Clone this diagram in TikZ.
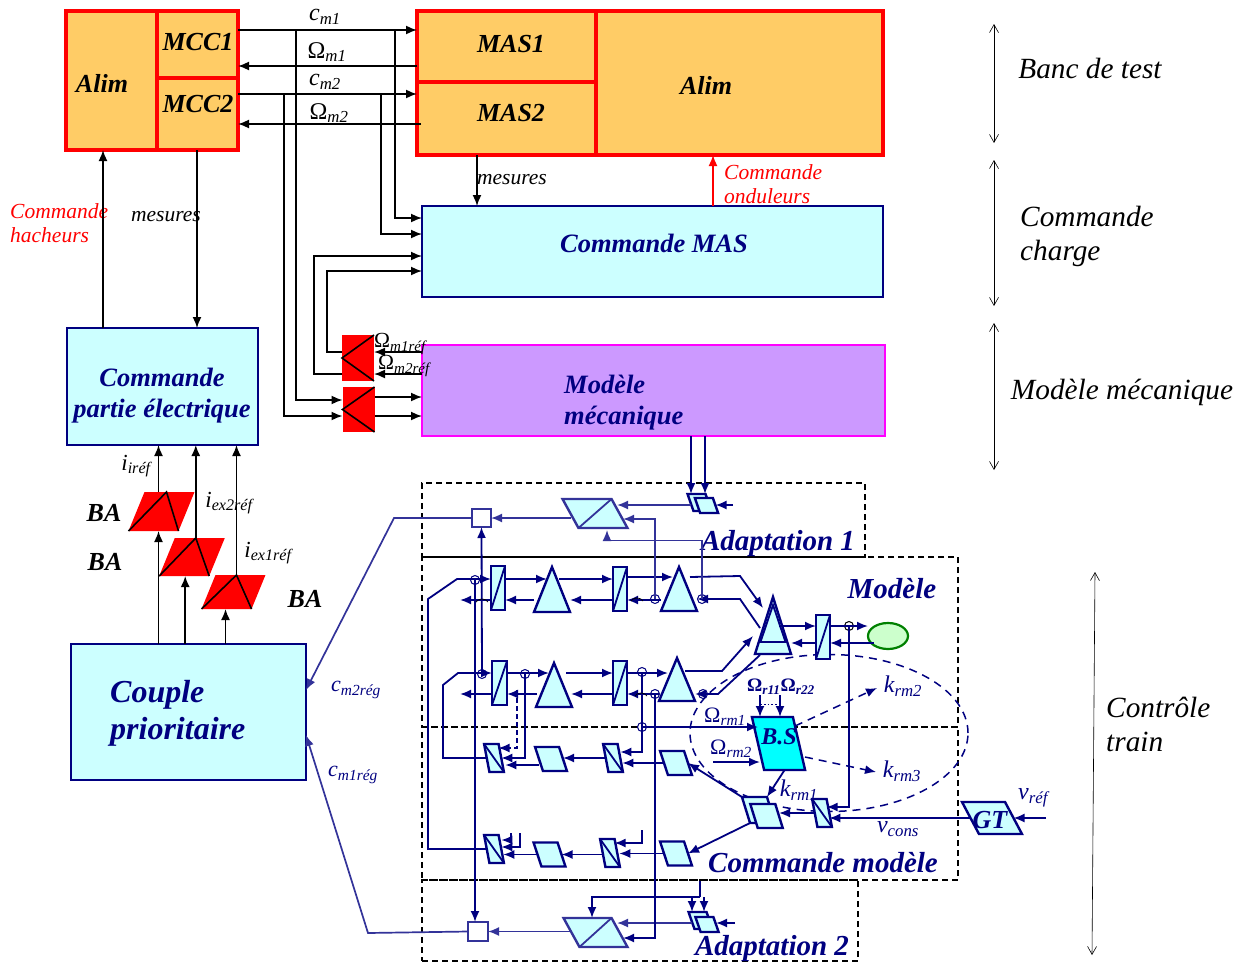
\documentclass[tikz,border=0pt]{standalone}
\usepackage{fontspec}
\setmainfont{Liberation Serif}
\usetikzlibrary{arrows.meta,positioning,calc,shapes.geometric}
\definecolor{navyb}{HTML}{000080}
\definecolor{indigob}{HTML}{333399}
\definecolor{paleb}{HTML}{CCFFFF}
\definecolor{orangeb}{HTML}{FFCC66}
\definecolor{violetb}{HTML}{CC99FF}
\definecolor{cyanb}{HTML}{00FFFF}
\definecolor{magentab}{HTML}{FF00FF}
\definecolor{greenb}{HTML}{008000}
\definecolor{paleg}{HTML}{CCFFCC}
\newcommand{\sublab}[2]{#1\textsubscript{\itshape #2}}
\newcommand{\Om}{{\upshape Ω}}
\tikzset{
  orangebox/.style={draw=red,fill=orangeb,line width=3.2pt,inner sep=0pt,outer sep=0pt},
  palebox/.style={draw=navyb,fill=paleb,line width=2.8pt,inner sep=0pt,outer sep=0pt},
  mixbox/.style={draw=magentab,fill=violetb,line width=2.8pt,inner sep=0pt,outer sep=0pt},
  redbox/.style={fill=red,inner sep=0pt,outer sep=0pt},
  redpara/.style={fill=red,inner sep=0pt,outer sep=0pt,xslant=.41,transform shape},
  dashbox/.style={draw=black,dashed,line width=1.1pt,dash pattern=on 6pt off 4pt,inner sep=0pt,outer sep=0pt},
  para/.style={draw=navyb,fill=paleb,line width=2.4pt,inner sep=0pt,outer sep=0pt,xslant=#1,transform shape},
  ipara/.style={para=#1,draw=indigob},
  whitebox/.style={draw=indigob,fill=white,line width=1.8pt,inner sep=0pt,outer sep=0pt},
  slashup/.style={append after command={(\tikzlastnode.south west) edge[#1,line width=1.8pt,-] (\tikzlastnode.north east)}},
  slashdown/.style={append after command={(\tikzlastnode.north west) edge[navyb,line width=1.8pt,-] (\tikzlastnode.south east)}},
  bar/.style={draw=navyb,fill=paleb,line width=2.4pt,inner sep=0pt,outer sep=0pt,minimum width=14pt,minimum height=44pt,slashup=navyb},
  slantbar/.style={para=-.19,minimum width=14.5pt,minimum height=28pt,slashdown},
  smallpara/.style={para=-.33,minimum width=24pt,minimum height=24pt},
  tri/.style={isosceles triangle,isosceles triangle stretches,shape border rotate=90,draw=navyb,fill=paleb,line width=2.4pt,inner sep=0pt,outer sep=0pt,anchor=lower side},
  jn/.style={circle,draw=navyb,line width=1pt,minimum size=9pt,inner sep=0pt,outer sep=0pt},
  kline/.style={black,line width=1.6pt},
  nl/.style={navyb,line width=1.8pt},
  il/.style={indigob,line width=1.7pt},
  dl/.style={navyb,line width=1.5pt,dashed,dash pattern=on 8pt off 6pt},
  span/.style={black,line width=.6pt,{Straight Barb[length=8pt,width=9pt]}-{Straight Barb[length=8pt,width=9pt]}},
  bigk/.style={font=\fontsize{26}{30}\bfseries\itshape\selectfont,black,inner sep=0pt},
  bign/.style={font=\fontsize{26.5}{31}\bfseries\itshape\selectfont,navyb,inner sep=0pt,align=center},
  bignn/.style={font=\fontsize{29}{33}\bfseries\itshape\selectfont,navyb,inner sep=0pt},
  lab/.style={font=\fontsize{21.5}{24}\itshape\selectfont,black,inner sep=0pt,align=left},
  slab/.style={font=\fontsize{24}{26}\itshape\selectfont,black,inner sep=0pt},
  nlab/.style={font=\fontsize{24}{26}\itshape\selectfont,navyb,inner sep=0pt},
  rlab/.style={font=\fontsize{21.5}{24}\itshape\selectfont,red,inner sep=0pt,align=left},
  side/.style={font=\fontsize{29.3}{34}\itshape\selectfont,black,inner sep=0pt,align=left},
}
\begin{document}
\begin{tikzpicture}[x=1pt,y=-1pt,>={Latex[length=11pt,width=9pt]}]
\useasboundingbox (0,0) rectangle (1242,961);

\node[dashbox,minimum width=443pt,minimum height=74pt] (ADa) at (643.5,520) {};
\node[dashbox,minimum width=536pt,minimum height=170pt] (MOD) at (690,642) {};
\node[dashbox,minimum width=536pt,minimum height=153pt] (CMOD) at (690,803.5) {};
\node[dashbox,minimum width=436pt,minimum height=81pt] (ADb) at (640,920.5) {};
\node[ellipse,draw=navyb,dl,minimum width=278pt,minimum height=157pt,inner sep=0pt] (KEL) at (829,733) {};

\node[orangebox,minimum width=91pt,minimum height=139pt] (ALa) at (111.5,80.5) {};
\node[orangebox,minimum width=81pt,minimum height=67pt] (MCCa) at (197.5,44.5) {};
\node[orangebox,minimum width=81pt,minimum height=72pt] (MCCb) at (197.5,114) {};
\node[orangebox,minimum width=179pt,minimum height=71pt] (MASa) at (506.5,46.5) {};
\node[orangebox,minimum width=179pt,minimum height=73pt] (MASb) at (506.5,118.5) {};
\node[orangebox,minimum width=287pt,minimum height=144pt] (ALb) at (739.5,83) {};
\node[palebox,minimum width=461pt,minimum height=91pt] (CM) at (652.5,251.5) {};
\node[mixbox,minimum width=463pt,minimum height=91pt] (MM) at (653.5,390.5) {};
\node[palebox,minimum width=191pt,minimum height=117pt] (CPE) at (162.5,386.5) {};
\node[palebox,minimum width=235pt,minimum height=136pt] (CP) at (188.5,712) {};
\node[redbox,minimum width=32pt,minimum height=46pt] (REa) at (358,358) {};
\node[redbox,minimum width=32pt,minimum height=45pt] (REb) at (358.5,409.5) {};
\node[redpara,minimum width=50pt,minimum height=39pt] (BAa) at (161.5,511.5) {};
\node[redpara,minimum width=50pt,minimum height=38pt] (BAb) at (192,557) {};
\node[redpara,minimum width=50pt,minimum height=34pt] (BAc) at (233.5,592) {};

\node[bigk] (ALaT) at (102,83) {Alim};
\node[bigk] (MCCaT) at (198,42) {MCC1};
\node[bigk] (MCCbT) at (198,104) {MCC2};
\node[bigk] (MASaT) at (511,44) {MAS1};
\node[bigk] (MASbT) at (511,113) {MAS2};
\node[bigk] (ALbT) at (706,85) {Alim};
\node[bign] (CMT) at (654,243) {Commande MAS};
\node[bign,align=left,anchor=west] (MMT) at (564,403) {Modèle\\mécanique};
\node[bign] (CPET) at (162,396) {Commande\\partie électrique};
\node[bign,align=left,anchor=west,font=\fontsize{32}{37}\bfseries\itshape\selectfont] (CPT) at (110,713) {Couple\\prioritaire};
\node[bigk] (BAaT) at (104,513) {BA};
\node[bigk] (BAbT) at (105,562) {BA};
\node[bigk] (BAcT) at (305,599) {BA};

\node[slab] (cma) at (325,17) {\sublab{c}{m1}};
\node[slab] (oma) at (327,52) {\sublab{\Om}{m1}};
\node[slab] (cmb) at (325,82) {\sublab{c}{m2}};
\node[slab] (omb) at (329,113) {\sublab{\Om}{m2}};
\node[lab] (meA) at (512,180) {mesures};
\node[lab] (meB) at (166,217) {mesures};
\node[rlab,anchor=west] (coH) at (10,223) {Commande\\hacheurs};
\node[rlab,anchor=west] (coO) at (724,184) {Commande\\onduleurs};
\node[lab] (omra) at (400,344) {\sublab{\Om}{m1réf}};
\node[lab] (omrb) at (404,366) {\sublab{\Om}{m2réf}};
\node[slab,font=\fontsize{23}{26}\itshape\selectfont] (iia) at (136,466) {\sublab{i}{iréf}};
\node[slab,font=\fontsize{23}{26}\itshape\selectfont] (iib) at (229,503) {\sublab{i}{ex2réf}};
\node[slab,font=\fontsize{23}{26}\itshape\selectfont] (iic) at (268,553) {\sublab{i}{ex1réf}};

\node[side] (BANC) at (1090,68) {Banc de test};
\node[side,anchor=west] (CCH) at (1020,236) {Commande\\charge};
\node[side] (MMEC) at (1122,392) {Modèle mécanique};
\node[side,anchor=west] (CTR) at (1106,724) {Contrôle\\train};
\coordinate (spa) at (994,24);
\coordinate (spb) at (994,143);
\coordinate (spc) at (994,160);
\coordinate (spd) at (994,306);
\coordinate (spe) at (994,323);
\coordinate (spf) at (994,470);
\coordinate (spg) at (1095,572);
\coordinate (sph) at (1092,955);
\draw[span] (spa)--(spb);
\draw[span] (spc)--(spd);
\draw[span] (spe)--(spf);
\draw[span] (spg)--(sph);

\coordinate (yca) at (0,30);
\coordinate (yoa) at (0,66);
\coordinate (ycb) at (0,94);
\coordinate (yob) at (0,124);
\coordinate (yia) at (0,218);
\coordinate (yib) at (0,234);
\coordinate (yic) at (0,256);
\coordinate (yid) at (0,271);
\coordinate (yra) at (0,352);
\coordinate (yrb) at (0,374);
\coordinate (yrc) at (0,397);
\coordinate (yrd) at (0,400);
\coordinate (yre) at (0,416);
\coordinate (xa) at (395,0);
\coordinate (xb) at (381,0);
\coordinate (xc) at (296,0);
\coordinate (xd) at (284,0);
\coordinate (xe) at (327,0);
\coordinate (xf) at (314,0);
\coordinate (xg) at (477,0);
\coordinate (xh) at (713,0);
\coordinate (xi) at (103,0);
\coordinate (xj) at (197,0);

\draw[kline,->] (MCCa.east|-yca)--(MASa.west|-yca);
\draw[kline,->] (MASa.west|-yoa)--(MCCa.east|-yoa);
\draw[kline,->] (MCCb.east|-ycb)--(MASb.west|-ycb);
\draw[kline,->] ([xshift=4pt]MASb.west|-yob)--(MCCb.east|-yob);
\draw[kline,->] (xa|-yca)|-(CM.west|-yia);
\draw[kline,->] (xb|-ycb)|-(CM.west|-yib);
\draw[kline,->] (xc|-yca)|-(REb.west|-yrd);
\draw[kline,->] (xd|-ycb)|-(REb.west|-yre);
\draw[kline,->] (REa.west|-yrb)-|(xf|-yic)--(CM.west|-yic);
\draw[kline,->] (REa.west|-yra)-|(xe|-yid)--(CM.west|-yid);
\draw[kline,->] (MM.west|-yra)--(REa.east|-yra);
\draw[kline,->] (MM.west|-yrb)--(REa.east|-yrb);
\draw[kline,->] (REb.east|-yrc)--(MM.west|-yrc);
\draw[kline,->] (REb.east|-yre)--(MM.west|-yre);
\draw[kline] (REa.north east)--(REa.west)--(REa.south east);
\draw[kline] (REb.north east)--(REb.west)--(REb.south east);
\draw[kline,->] (xg|-MASb.south)--(xg|-CM.north);
\draw[red,line width=1.6pt,->] (xh|-CM.north)--(xh|-ALb.south);
\draw[kline,->] (xi|-CPE.north)--(xi|-ALa.south);
\draw[kline,->] (xj|-MCCb.south)--(xj|-CPE.north);
\draw[kline] (BAa.south west)--([xshift=-3pt]BAa.north)--(BAa.south east);
\draw[kline] (BAb.south west)--([xshift=-4pt]BAb.north)--(BAb.south east);
\draw[kline] (BAc.south west)--([xshift=-4pt]BAc.north)--(BAc.south east);
\draw[kline,->] ([xshift=-11pt]BAa.north)--([xshift=-11pt]BAa.north|-CPE.south);
\draw[kline,->] ([xshift=-4pt]BAb.north)--([xshift=-4pt]BAb.north|-CPE.south);
\draw[kline,->] ([xshift=-4pt]BAc.north)--([xshift=-4pt]BAc.north|-CPE.south);
\draw[kline,->] ([xshift=5pt]BAa.south|-CP.north)--([xshift=5pt]BAa.south);
\draw[kline,->] ([xshift=1pt]BAb.south|-CP.north)--([xshift=1pt]BAb.south);
\draw[kline,->] ([xshift=-1pt]BAc.south|-CP.north)--([xshift=-1pt]BAc.south);

\node[bar] (SBa) at (498,588) {};
\node[bar] (SBb) at (620,589) {};
\node[bar,minimum width=15pt] (SBc) at (499.5,683) {};
\node[bar] (SBd) at (620,683) {};
\node[bar] (SBe) at (823,637) {};
\node[tri,minimum width=36pt,minimum height=45pt] (TRa) at (552,612) {};
\node[tri,minimum width=36pt,minimum height=44pt] (TRb) at (679,611) {};
\node[tri,minimum width=36pt,minimum height=44pt] (TRc) at (554,707) {};
\node[tri,minimum width=36pt,minimum height=43pt] (TRd) at (677,701) {};
\node[tri,minimum width=36pt,minimum height=57pt] (TRo) at (773,654) {};
\node[tri,line width=1.8pt,minimum width=25pt,minimum height=37pt] (TRi) at (773,642) {};
\node[ellipse,draw=greenb,fill=paleg,line width=2.2pt,minimum width=40pt,minimum height=26pt,inner sep=0pt,outer sep=0pt] (EL) at (888,636) {};
\node[slantbar] (SGa) at (613,758) {};
\node[slantbar] (SGb) at (494,758) {};
\node[slantbar] (SGc) at (610,853) {};
\node[slantbar] (SGd) at (494,849) {};
\node[slantbar] (SGe) at (822,813) {};
\node[smallpara] (PAa) at (676,763) {};
\node[smallpara] (PAb) at (551,759) {};
\node[smallpara] (PAc) at (676,853.5) {};
\node[smallpara] (PAd) at (549.5,854.5) {};
\node[para=-.31,minimum width=25pt,minimum height=26pt] (HAa) at (758.5,810) {};
\node[para=-.31,minimum width=25pt,minimum height=24pt] (HAb) at (766.5,816) {};
\node[para=-.23,fill=cyanb,minimum width=41pt,minimum height=53pt] (BS) at (778.5,743.5) {};
\node[para=-.53,minimum width=43pt,minimum height=32pt] (GT) at (992,818) {};
\node[ipara=-.55,minimum width=49pt,minimum height=29pt,slashup=indigob] (AAa) at (595,513.5) {};
\node[ipara=-.55,minimum width=48pt,minimum height=29pt,slashup=indigob] (AAb) at (595.5,932.5) {};
\node[whitebox,minimum width=19pt,minimum height=18pt] (BXa) at (481.5,518) {};
\node[whitebox,minimum width=20pt,minimum height=19pt] (BXb) at (478,931.5) {};
\node[para=-.35,minimum width=18pt,minimum height=17pt] (DPa) at (699.5,502.5) {};
\node[para=-.35,minimum width=18pt,minimum height=15pt] (DPb) at (706.5,505.5) {};
\node[para=-.35,minimum width=18pt,minimum height=17pt] (DPc) at (700.5,920.5) {};
\node[para=-.35,minimum width=18pt,minimum height=15pt] (DPd) at (707,924.5) {};
\node[jn] (JNa) at (475,580) {};
\node[jn] (JNb) at (655,599) {};
\node[jn] (JNc) at (702,599) {};
\node[jn] (JNd) at (482,674) {};
\node[jn] (JNe) at (525,674) {};
\node[jn] (JNf) at (642,672) {};
\node[jn] (JNg) at (655,694) {};
\node[jn] (JNh) at (703,694) {};
\node[jn,draw=black] (JNi) at (849,626) {};
\node[jn] (JNj) at (642,727) {};

\node[bignn] (ADaT) at (778,544) {Adaptation 1};
\node[bignn] (ADbT) at (772,949) {Adaptation 2};
\node[bignn] (MODT) at (892,589) {Modèle};
\node[bignn] (CMODT) at (823,863) {Commande modèle};
\node[bign,font=\fontsize{24}{28}\bfseries\itshape\selectfont] (BST) at (779,737) {B.S};
\node[bign,font=\fontsize{26}{28}\bfseries\itshape\selectfont] (GTT) at (990,820) {GT};
\node[nlab,font=\fontsize{19}{22}\bfseries\itshape\selectfont] (ORa) at (781,687) {\sublab{\Om}{r11}\sublab{\Om}{r22}};
\node[nlab] (KRb) at (903,686) {\sublab{k}{rm2}};
\node[nlab] (KRc) at (902,771) {\sublab{k}{rm3}};
\node[nlab] (KRa) at (799,790) {\sublab{k}{rm1}};
\node[nlab,font=\fontsize{22}{26}\itshape\selectfont] (ORb) at (725,717) {\sublab{\Om}{rm1}};
\node[nlab,font=\fontsize{22}{26}\itshape\selectfont] (ORc) at (731,749) {\sublab{\Om}{rm2}};
\node[nlab] (VCO) at (898,829) {\sublab{v}{cons}};
\node[nlab] (VRE) at (1033,798) {\sublab{v}{réf}};
\node[nlab,font=\fontsize{22}{26}\itshape\selectfont] (CRb) at (356,690) {\sublab{c}{m2rég}};
\node[nlab,font=\fontsize{22}{26}\itshape\selectfont] (CRa) at (353,775) {\sublab{c}{m1rég}};

\coordinate (fba) at (428,599);
\coordinate (fbb) at (457,579);
\coordinate (fbc) at (443,685);
\coordinate (fbd) at (458,673);
\coordinate (tai) at (547,579);
\coordinate (tao) at (559,579);
\coordinate (tbi) at (673,577);
\coordinate (tbo) at (690,577);
\coordinate (tbu) at (740,576);
\coordinate (tbv) at (763,608);
\coordinate (tcu) at (740,599);
\coordinate (tcv) at (760,628);
\coordinate (tdu) at (722,671);
\coordinate (tdv) at (753,636);
\coordinate (teu) at (718,694);
\coordinate (tev) at (760,655);
\coordinate (ybk) at (0,600);
\coordinate (ybl) at (0,694);
\coordinate (yfl) at (0,673);
\coordinate (xlo) at (460,0);
\coordinate (ylft) at (0,626);
\coordinate (ylfb) at (0,643);
\coordinate (yjf) at (0,752);
\coordinate (ypb) at (0,765);
\coordinate (aai) at (623,519);
\coordinate (aaj) at (617,505);
\coordinate (aak) at (607,530);
\coordinate (aal) at (702,540.5);
\coordinate (abi) at (623,938);
\coordinate (abj) at (617,923);
\coordinate (abk) at (592,918);
\coordinate (abl) at (700,881);
\coordinate (abm) at (700,897);
\coordinate (abn) at (692,897);
\coordinate (abo) at (704,897);
\coordinate (cpa) at (394,518);
\coordinate (cpb) at (368,933);
\coordinate (cpc) at (306,690);
\coordinate (cpd) at (306,735);
\coordinate (dpa) at (733,505);
\coordinate (dpb) at (735,923);
\coordinate (dpc) at (691,0);
\coordinate (dpd) at (705,0);
\coordinate (vre) at (1046,818);
\coordinate (sgb) at (810,807);
\coordinate (sta) at (642,830);
\coordinate (stb) at (642,843);
\coordinate (stc) at (520,833);
\coordinate (std) at (520,847);
\coordinate (ste) at (511,833);
\coordinate (stf) at (511,840);
\coordinate (dsa) at (517,690);
\coordinate (dsb) at (517,748);
\coordinate (oma) at (760,695);
\coordinate (omb) at (780,695);
\coordinate (bsa) at (760,717);
\coordinate (bsb) at (780,717);
\coordinate (koa) at (795,726);
\coordinate (kob) at (877,688);
\coordinate (kpa) at (805,757);
\coordinate (kpb) at (876,772);
\coordinate (oba) at (713,762);
\coordinate (obb) at (760,762);

\draw[nl,->] (SGd.west)--(fba|-SGd.west)--(fba)--(fbb)--(SBa.west|-fbb);
\draw[nl,->] (SGb.west)--(fbc|-SGb.west)--(fbc)--(fbd)--(SBc.west|-fbd);
\draw[nl,->] (SBa.east|-tai)--(tai);
\draw[nl,->] (tao)--(SBb.west|-tao);
\draw[nl,->] (SBb.east|-tbi)--(tbi);
\draw[nl,->] (tbo)--(tbu)--(tbv);
\draw[nl,->] (tcv)--(tcu)--(TRb.right corner|-tcu);
\draw[nl,->] (TRb.left corner|-ybk)--(SBb.east|-ybk);
\draw[nl,->] (SBb.west|-ybk)--(TRa.right corner|-ybk);
\draw[nl,->] (TRa.left corner|-ybk)--(SBa.east|-ybk);
\draw[nl,->] (SBa.west|-ybk)--(xlo|-ybk);
\draw[nl,->] (SBc.east|-yfl)--([xshift=-5pt]TRc.apex|-yfl);
\draw[nl,->] ([xshift=12pt]TRc.apex|-yfl)--(SBd.west|-yfl);
\draw[nl,->] (SBd.east|-yfl)--([xshift=-9pt]TRd.apex|-yfl);
\draw[nl,->] ([xshift=8pt]TRd.apex|-tdu)--(tdu)--(tdv);
\draw[nl,->] (tev)--(teu)--([xshift=18pt]TRd.apex|-teu);
\draw[nl,->] ([xshift=-18pt]TRd.apex|-ybl)--(SBd.east|-ybl);
\draw[nl,->] (SBd.west|-ybl)--([xshift=17pt]TRc.apex|-ybl);
\draw[nl,->] ([xshift=-17pt]TRc.apex|-ybl)--(SBc.east|-ybl);
\draw[nl,->] (SBc.west|-ybl)--(xlo|-ybl);
\draw[nl,->] (JNd.center)--(BXa.south);
\draw[nl,->] (JNa.center)--(JNa.center|-BXb.north);
\draw[il,->] (JNb.center)|-(aai);
\draw[il,->] (JNc.center)--(aal)-|(aak);
\draw[il,->] (AAa.west|-BXa.east)--(BXa.east);
\draw[il,->] (DPa.west|-aaj)--(aaj);
\draw[nl,->] (dpa)--(DPb.east|-dpa);
\draw[nl,->] (dpc|-MM.south)--(dpc|-DPa.north);
\draw[nl,->] (dpd|-MM.south)--(dpd|-DPa.north);
\draw[il,->] (BXa.west)--(cpa)--(cpc);
\draw[il,->] (BXb.west)--(cpb)--(cpd);
\draw[il,->] (AAb.west|-BXb.east)--(BXb.east);
\draw[il,->] (DPc.west|-abj)--(abj);
\draw[nl,->] (dpb)--(DPd.east|-dpb);
\draw[nl] (abl)--(abm);
\draw[nl,->] (abm)-|(abk);
\draw[nl,->] (abn)--(abn|-DPc.north);
\draw[nl,->] (abo)--(abo|-DPc.north);
\draw[nl,->] (JNg.center)|-(abi);
\draw[nl,->] (JNf.center)|-(SGa.east|-yjf);
\draw[nl,->] (JNe.center)|-(SGb.east);
\draw[dl,line width=1.2pt,dash pattern=on 5pt off 3pt,->] (dsa)--(dsb)--(SGb.north east|-dsb);
\draw[nl,->] (PAa.west)--([xshift=2pt]SGa.east|-PAa.west);
\draw[nl,->] (SGa.west)--(PAb.east|-SGa.west);
\draw[nl,->] (PAb.west|-ypb)--([xshift=4pt]SGb.east|-ypb);
\draw[nl,->] (PAc.west)--([xshift=2pt]SGc.east|-PAc.west);
\draw[nl,->] (SGc.west|-PAd.east)--(PAd.east);
\draw[nl,->] (PAd.west)--([xshift=2pt]SGd.east|-PAd.west);
\draw[nl,->] (sta)--(stb)--(SGc.north east|-stb);
\draw[nl,->] (stc)--(std)--(SGd.east|-std);
\draw[nl,->] (ste)--(stf)--(SGd.east|-stf);
\draw[nl,->] (TRi.right side|-ylft)--(SBe.west|-ylft);
\draw[nl,->] (SBe.east|-ylft)--(EL.west|-ylft);
\draw[nl,->] (EL.south west|-ylfb)--(SBe.east|-ylfb);
\draw[nl,->] (SBe.west|-ylfb)--(TRo.right corner|-ylfb);
\draw[nl,->] (JNi.center)|-(SGe.north east|-sgb);
\draw[nl,->] (GT.west)--(SGe.east|-GT.west);
\draw[nl,->] (SGe.west)--(HAb.east|-SGe.west);
\draw[nl,->] (BS.south)--(HAa.north east);
\draw[nl,->] (HAa.north west)--(PAa.east);
\draw[nl,->] (HAa.south west)--(PAc.east);
\draw[nl,->] (vre)--(GT.east|-vre);
\draw[nl,->] (oma)--(bsa);
\draw[nl,->] (omb)--(bsb);
\draw[nl,dotted,line width=1pt] ([yshift=-9pt]oma)--([yshift=-9pt]omb);
\draw[nl,->] (JNj.center)--(BS.west|-JNj.center);
\draw[nl,->] (oba)--(obb);
\draw[dl,->] (koa)--(kob);
\draw[dl,->] (kpa)--(kpb);
\draw[black,line width=.7pt] ([xshift=-24pt,yshift=-2pt]JNb.center) to[bend left=60] ([xshift=-12pt,yshift=-2pt]JNb.center);
\draw[black,line width=.7pt] ([xshift=-6pt,yshift=-2pt]JNd.center|-ybk) to[bend left=60] ([xshift=6pt,yshift=-2pt]JNd.center|-ybk);
\draw[black,line width=.7pt] ([xshift=-20pt,yshift=-2pt]JNg.center) to[bend left=60] ([xshift=-8pt,yshift=-2pt]JNg.center);
\end{tikzpicture}
\end{document}
